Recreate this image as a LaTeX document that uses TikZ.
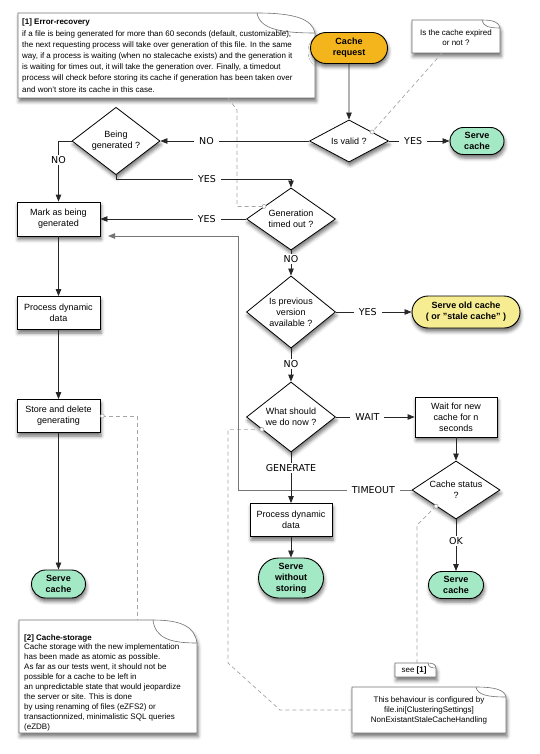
\documentclass[tikz,border=0pt]{standalone}
\usepackage{fontspec}
\setmainfont{Liberation Sans}
\newfontfamily\labelfont{DejaVu Sans}
\usetikzlibrary{shapes.geometric,shapes.misc,arrows.meta,shadows.blur,calc}

\definecolor{requestorange}{RGB}{243,180,28}
\definecolor{servegreen}{RGB}{164,233,197}
\definecolor{staleyellow}{RGB}{246,236,146}
\definecolor{linkgray}{RGB}{165,165,165}
\definecolor{loopgray}{RGB}{118,118,118}

\tikzset{
	soft shadow/.style={blur shadow={shadow xshift=1pt, shadow yshift=-3.5pt, shadow blur radius=3.5pt, shadow opacity=55}},
	box/.style={rectangle, draw=black, fill=white, line width=0.8pt, align=center, inner sep=2pt, font=\fontsize{9}{11}\selectfont, soft shadow},
	decision/.style={diamond, draw=black, fill=white, line width=0.8pt, align=center, inner sep=0pt, font=\fontsize{9}{11}\selectfont, soft shadow},
	terminal/.style={rounded rectangle, draw=black, line width=0.9pt, align=center, inner sep=2pt, font=\bfseries\fontsize{9}{11}\selectfont, soft shadow},
	flow/.style={draw=black!85, line width=0.8pt, -{Triangle[length=7pt,width=5.5pt]}},
	loopback/.style={draw=loopgray, line width=0.8pt, -{Triangle[length=7pt,width=5.5pt]}},
	lbl/.style={fill=white, inner ysep=1.5pt, inner xsep=5pt, font=\labelfont\fontsize{9.5}{11}\selectfont},
	notelink/.style={draw=linkgray, line width=0.7pt, dash pattern=on 4pt off 3pt},
	notetext/.style={inner sep=0pt, font=\fontsize{8}{11.2}\selectfont},
}

% note sheet with curled corner: x1, y1, x2, y2, fold width, fold height
\newcommand{\notesheet}[6]{%
	\fill[white, soft shadow] (#1,#4) -- (#1,#2) -- (#3-#5,#2)
		.. controls (#3-0.35*#5,#2) and (#3-0.05*#5,#2+0.3*#6) .. (#3,#2+#6) -- (#3,#4) -- cycle;
	\draw[black!55, line width=0.6pt] (#1,#4) -- (#1,#2) -- (#3-#5,#2)
		.. controls (#3-0.35*#5,#2) and (#3-0.05*#5,#2+0.3*#6) .. (#3,#2+#6) -- (#3,#4) -- cycle;
	\draw[black!55, line width=0.6pt] (#3-#5,#2)
		.. controls (#3-0.95*#5,#2+0.8*#6) and (#3-0.6*#5,#2+#6) .. (#3,#2+#6);
}

\begin{document}
\begin{tikzpicture}[x=1pt, y=-1pt]
		\useasboundingbox (0,0) rectangle (540,754);

		% Notes
		\notesheet{18}{13}{315}{98}{58}{20}
		\node[notetext, anchor=north west, align=left] (errnote) at (22,19) {\textbf{[1] Error-recovery}\\
			if a file is being generated for more than 60 seconds (default, customizable),\\
			the next requesting process will take over generation of this file. In the same\\
			way, if a process is waiting (when no stalecache exists) and the generation it\\
			is waiting for times out, it will take the generation over. Finally, a timedout\\
			process will check before storing its cache if generation has been taken over\\
			and won't store its cache in this case.};

		\notesheet{412}{20}{500}{53}{18}{8}
		\node[notetext, align=center, font=\fontsize{8}{9.5}\selectfont] (expnote) at (456,37.5) {Is the cache expired\\or not ?};

		\notesheet{19}{620}{197}{733}{44}{23}
		\node[notetext, anchor=north west, align=left, font=\fontsize{8}{9.9}\selectfont] (storenote) at (24,634) {\textbf{[2] Cache-storage}\\
			Cache storage with the new implementation\\
			has been made as atomic as possible.\\
			As far as our tests went, it should not be\\
			possible for a cache to be left in\\
			an unpredictable state that would jeopardize\\
			the server or site. This is done\\
			by using renaming of files (eZFS2) or\\
			transactionnized, minimalistic SQL queries\\
			(eZDB)};

		\notesheet{395}{663}{436}{677}{8}{5}
		\node[notetext] (seenote) at (414,670.5) {see \textbf{[1]}};

		\notesheet{352}{687}{506}{733}{30}{10}
		\node[notetext, align=center, font=\fontsize{8}{10}\selectfont] (cfgnote) at (429,710) {This behaviour is configured by\\file.ini[ClusteringSettings]\\NonExistantStaleCacheHandling};

		% Flow nodes
		\node[terminal, fill=requestorange, minimum width=81pt, minimum height=31pt] (cachereq) at (349,48) {Cache\\request};
		\node[decision, minimum width=79pt, minimum height=32pt] (isvalid) at (349,141) {Is valid ?};
		\node[terminal, fill=servegreen, minimum width=58pt, minimum height=27pt] (servetop) at (477,141) {Serve\\cache};
		\node[decision, minimum width=88pt, minimum height=54pt] (beinggen) at (116,141) {Being\\generated ?};
		\node[decision, minimum width=89pt, minimum height=54pt] (gentimeout) at (291,219) {Generation\\timed out ?};
		\node[box, minimum width=83pt, minimum height=34pt] (mark) at (58.5,219) {Mark as being\\generated};
		\node[decision, minimum width=89pt, minimum height=61pt] (prevver) at (291,312) {Is previous\\version\\available ?};
		\node[terminal, fill=staleyellow, minimum width=112pt, minimum height=32pt] (servestale) at (466,312) {Serve old cache\\( or "stale cache" )};
		\node[decision, minimum width=89pt, minimum height=70pt] (whatnow) at (291,417) {What should\\we do now ?};
		\node[box, minimum width=82pt, minimum height=40pt] (waitnew) at (456,417) {Wait for new\\cache for n\\seconds};
		\node[decision, minimum width=88pt, minimum height=46pt, inner sep=-3pt] (cachestatus) at (456,490) {Cache status\\?};
		\node[box, minimum width=82pt, minimum height=33pt] (procright) at (291,520) {Process dynamic\\data};
		\node[terminal, fill=servegreen, minimum width=69pt, minimum height=40pt] (servenostore) at (291,578) {Serve\\without\\storing};
		\node[terminal, fill=servegreen, minimum width=59pt, minimum height=27pt] (servebottom) at (456,585) {Serve\\cache};
		\node[box, minimum width=83pt, minimum height=33pt] (procleft) at (58.5,313) {Process dynamic\\data};
		\node[box, minimum width=83pt, minimum height=33pt] (store) at (58.5,416) {Store and delete\\generating};
		\node[terminal, fill=servegreen, minimum width=58pt, minimum height=28pt] (serveleft) at (58.5,584) {Serve\\cache};

		% Bends and note anchors
		\coordinate (yesbend) at (291,179);
		\coordinate (reentry) at (108,236);
		\coordinate (loopcorner) at (238,490);
		\coordinate (errtail) at (228,98);
		\coordinate (exptail) at (442,53);
		\coordinate (storetop) at (137,620);
		\coordinate (seetop) at (417,663);
		\coordinate (cfgleft) at (352,710);
		\coordinate (gentimeout-spot) at ($(gentimeout.west)!0.4!(gentimeout.north)$);
		\coordinate (isvalid-spot) at ($(isvalid.east)!0.42!(isvalid.north)$);
		\coordinate (whatnow-spot) at ($(whatnow.west)!0.35!(whatnow.south)$);
		\coordinate (cachestatus-spot) at ($(cachestatus.west)!0.55!(cachestatus.south)$);
		\coordinate (store-spot) at ([xshift=2pt]store.east);

		% Dashed note links
		\draw[notelink] (errtail) -- (237,110) |- (gentimeout-spot);
		\draw[notelink] (exptail) -- (isvalid-spot);
		\draw[notelink] (store-spot) -| (storetop);
		\draw[notelink] (whatnow-spot) -| (228,663) -- (280,710) -- (cfgleft);
		\draw[notelink] (cachestatus-spot) -- (417,525) -- (seetop);
		\foreach \spot in {gentimeout-spot, isvalid-spot, whatnow-spot, cachestatus-spot, store-spot}
			\draw[linkgray, line width=0.6pt, fill=white] (\spot) circle (2);

		% Main flow
		\draw[flow] (cachereq) -- (isvalid);
		\draw[flow] (isvalid) -- node[lbl, pos=.4] {YES} (servetop);
		\draw[flow] (isvalid) -- node[lbl, pos=.69] {NO} (beinggen);
		\draw[flow] (beinggen.west) -| node[lbl, pos=.66] {NO} (mark.north);
		\draw[flow] (beinggen.south) |- node[lbl, pos=.76] {YES} (yesbend) -- (gentimeout.north);
		\draw[flow] (gentimeout) -- node[lbl, pos=.27] {YES} (mark);
		\draw[flow] (gentimeout) -- node[lbl, pos=.33] {NO} (prevver);
		\draw[flow] (prevver) -- node[lbl, pos=.42] {YES} (servestale);
		\draw[flow] (prevver) -- node[lbl, pos=.46] {NO} (whatnow);
		\draw[flow] (whatnow) -- node[lbl, pos=.4] {WAIT} (waitnew);
		\draw[flow] (waitnew) -- (cachestatus);
		\draw[flow] (cachestatus) -- node[lbl, pos=.41] {OK} (servebottom);
		\draw[loopback] (cachestatus.west) -- node[lbl, pos=.22] {TIMEOUT} (loopcorner) |- (reentry);
		\draw[flow] (whatnow) -- node[lbl, pos=.31] {GENERATE} (procright);
		\draw[flow] (procright) -- (servenostore);
		\draw[flow] (mark) -- (procleft);
		\draw[flow] (procleft) -- (store);
		\draw[flow] (store) -- (serveleft);
	\end{tikzpicture}
\end{document}
